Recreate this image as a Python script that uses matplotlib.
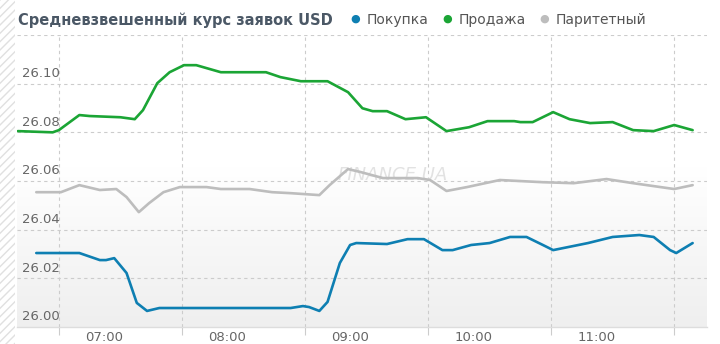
import numpy as np
import matplotlib
matplotlib.use("Agg")
from matplotlib import pyplot as plt
from matplotlib.patches import Rectangle
from matplotlib.transforms import blended_transform_factory

# --- data (time HH:MM, rate) ---
sell_times = ["06:18", "06:35", "06:38", "06:48", "06:53", "07:08", "07:15", "07:19",
              "07:26", "07:32", "07:39", "07:45", "07:57", "08:06", "08:19", "08:26",
              "08:36", "08:49", "08:59", "09:06", "09:11", "09:18", "09:27", "09:37",
              "09:47", "09:58", "10:07", "10:20", "10:23", "10:29", "10:39", "10:47",
              "10:57", "11:08", "11:18", "11:28", "11:38", "11:47"]
sell_vals = [26.0805, 26.0800, 26.0809, 26.0871, 26.0867, 26.0862, 26.0854, 26.0891,
             26.1002, 26.1047, 26.1076, 26.1076, 26.1047, 26.1047, 26.1047, 26.1027,
             26.1010, 26.1010, 26.0965, 26.0899, 26.0887, 26.0887, 26.0854, 26.0862,
             26.0805, 26.0821, 26.0846, 26.0846, 26.0842, 26.0842, 26.0883, 26.0854,
             26.0838, 26.0842, 26.0809, 26.0805, 26.0830, 26.0809]

par_times = ["06:27", "06:39", "06:48", "06:58", "07:06", "07:11", "07:17", "07:22",
             "07:29", "07:37", "07:50", "07:57", "08:11", "08:22", "08:31", "08:45",
             "08:50", "08:59", "09:05", "09:16", "09:33", "09:39", "09:47", "09:57",
             "10:13", "10:34", "10:49", "11:05", "11:18", "11:38", "11:47"]
par_vals = [26.0554, 26.0554, 26.0583, 26.0563, 26.0567, 26.0534, 26.0472, 26.0509,
            26.0554, 26.0575, 26.0575, 26.0567, 26.0567, 26.0554, 26.0550, 26.0542,
            26.0583, 26.0649, 26.0637, 26.0612, 26.0612, 26.0604, 26.0559, 26.0575,
            26.0604, 26.0595, 26.0591, 26.0608, 26.0591, 26.0567, 26.0583]

buy_times = ["06:27", "06:48", "06:58", "07:01", "07:05", "07:11", "07:16", "07:21",
             "07:27", "08:06", "08:31", "08:37", "08:40", "08:45", "08:49", "08:55",
             "09:00", "09:03", "09:18", "09:28", "09:36", "09:45", "09:50", "09:59",
             "10:08", "10:18", "10:26", "10:34", "10:39", "10:56", "11:08", "11:21",
             "11:28", "11:36", "11:39", "11:47"]
buy_vals = [26.0304, 26.0304, 26.0275, 26.0275, 26.0283, 26.0222, 26.0099, 26.0066,
            26.0078, 26.0078, 26.0078, 26.0086, 26.0082, 26.0066, 26.0103, 26.0263,
            26.0337, 26.0345, 26.0341, 26.0361, 26.0361, 26.0316, 26.0316, 26.0337,
            26.0345, 26.0370, 26.0370, 26.0337, 26.0316, 26.0345, 26.0370, 26.0378,
            26.0370, 26.0316, 26.0304, 26.0345]

hour_labels = ["07:00", "08:00", "09:00", "10:00", "11:00"]
grid_x = ["06:38", "07:38", "08:38", "09:38", "10:38", "11:38"]
y_ticks = [26.00, 26.02, 26.04, 26.06, 26.08, 26.10]


def mins(t):
    h, m = t.split(":")
    return int(h) * 60 + int(m)


col_buy = "#0e7fb2"
col_sell = "#1ba535"
col_par = "#bdbdbd"
txt = "#666666"

fig = plt.figure(figsize=(7.2, 3.44), dpi=100)
ax = fig.add_axes([17 / 720, 17 / 344, 690 / 720, 292 / 344])

# hatched strip at the left
fig.patches.append(Rectangle((0, 0), 15 / 720, 1, transform=fig.transFigure,
                             facecolor="white", edgecolor="#e0e0e0", hatch="////",
                             linewidth=0, zorder=-5))

ax.set_xlim(mins("06:18") - 0.4, mins("11:54"))
ax.set_ylim(26.00, 26.12)

# gradient background
grad = np.linspace(0, 1, 256).reshape(-1, 1)
grad = np.clip(grad / 0.55, 0, 1)
cmap = matplotlib.colors.LinearSegmentedColormap.from_list("g", ["#efefef", "#ffffff"])
ax.imshow(grad, cmap=cmap, aspect="auto", extent=[0, 1, 0, 1], transform=ax.transAxes,
          origin="lower", zorder=0)

for s in ["top", "right", "left"]:
    ax.spines[s].set_visible(False)
ax.spines["bottom"].set_color("#dddddd")
ax.spines["bottom"].set_linewidth(1)

for gx in grid_x:
    ax.axvline(mins(gx), color="#cccccc", lw=0.8, ls=(0, (3, 3)), zorder=1)
for gy in y_ticks[1:] + [26.12]:
    ax.axhline(gy, color="#cccccc", lw=0.8, ls=(0, (3, 3)), zorder=1)

ax.set_yticks([])
ax.set_xticks([mins(h) for h in hour_labels])
ax.set_xticklabels(hour_labels, color=txt, fontsize=9.5)
ax.tick_params(axis="x", length=0, pad=3)
ax.set_xticks([mins(g) for g in grid_x], minor=True)
ax.tick_params(axis="x", which="minor", length=6, color="#cccccc", width=0.8)

tr = blended_transform_factory(ax.transAxes, ax.transData)
for yv in y_ticks:
    ax.text(5 / 690, yv + 0.0015, f"{yv:.2f}", transform=tr, color=txt,
            fontsize=9.5, ha="left", va="bottom", zorder=2)

ax.text(0.545, 26.0625, "FINANCE.UA", transform=tr, color="#e2e2e2", fontsize=13,
        style="italic", ha="center", va="center", zorder=1.5)

kw = dict(lw=1.9, solid_capstyle="round", solid_joinstyle="round", zorder=3)
ax.plot([mins(t) for t in sell_times], sell_vals, color=col_sell, **kw)
ax.plot([mins(t) for t in par_times], par_vals, color=col_par, **kw)
ax.plot([mins(t) for t in buy_times], buy_vals, color=col_buy, **kw)

# title and legend
fig.text(18 / 720, 1 - 20 / 344, "Средневзвешенный курс заявок USD", fontsize=10.5,
         fontweight="bold", color="#4b5866", va="center", ha="left")
legend = [("Покупка", col_buy, 355), ("Продажа", col_sell, 447), ("Паритетный", col_par, 544)]
for name, c, xp in legend:
    fig.text(xp / 720, 1 - 19 / 344, "\u25cf", color=c, fontsize=8, va="center", ha="center")
    fig.text((xp + 12) / 720, 1 - 20 / 344, name, color="#555555", fontsize=10,
             va="center", ha="left")

fig.savefig("out.png", dpi=100)
